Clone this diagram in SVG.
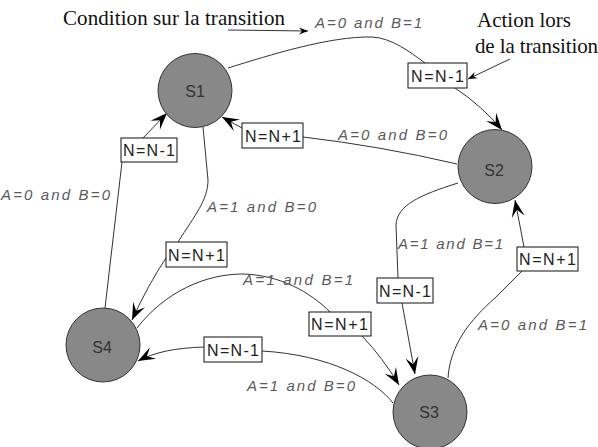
<svg xmlns="http://www.w3.org/2000/svg" width="598" height="447" viewBox="0 0 598 447">
<style>
.st{fill:#888;stroke:#333;stroke-width:1}
.sn{font-family:"Liberation Sans",Arial,sans-serif;font-size:16px;fill:#333;text-anchor:middle}
.bx{fill:#fff;stroke:#111;stroke-width:1}
.bt{font-family:"Liberation Sans",Arial,sans-serif;font-size:16px;fill:#222}
.lb{font-family:"Liberation Sans",Arial,sans-serif;font-size:15px;font-style:italic;fill:#5a5a5a}
.an{font-family:"Liberation Serif","Times New Roman",serif;font-size:21px;fill:#111}
.cn{fill:none;stroke:#333;stroke-width:1}
</style>
<defs>
<marker id="ah" markerUnits="userSpaceOnUse" markerWidth="22" markerHeight="16" viewBox="-18 -8 20 16" refX="0" refY="0" orient="auto">
<path d="M0,0 L-17,-6.5 L-10,0 L-17,6.5 Z" fill="#000"/>
</marker>
<marker id="sa" markerUnits="userSpaceOnUse" markerWidth="12" markerHeight="10" viewBox="-10 -5 11 10" refX="0" refY="0" orient="auto">
<path d="M0,0 L-9,-3.5 L-6,0 L-9,3.5 Z" fill="#000"/>
</marker>
</defs>

<g id="connectors">
<path class="cn" d="M228,68 C270,55 330,36 372,37 C392,38 410,52 425,63"/>
<path class="cn" d="M455,88 Q482,106 502,130" marker-end="url(#ah)"/>
<path class="cn" d="M457,164 Q380,146 303,137"/>
<path class="cn" d="M242,128 L222,117" marker-end="url(#ah)"/>
<path class="cn" d="M105,308 L122,162"/>
<path class="cn" d="M143,138 L167,113" marker-end="url(#ah)"/>
<path class="cn" d="M203,127 L208,180 C208,200 195,215 178,242"/>
<path class="cn" d="M166,258 Q148,285 132,320" marker-end="url(#ah)"/>
<path class="cn" d="M137,328 C165,292 205,274 243,274 C280,275 310,292 330,312"/>
<path class="cn" d="M362,336 Q383,358 399,385" marker-end="url(#ah)"/>
<path class="cn" d="M393,403 C375,380 330,355 262,351"/>
<path class="cn" d="M204,347 C175,348 155,352 138,361" marker-end="url(#ah)"/>
<path class="cn" d="M458,183 C420,195 397,205 396,225 L398,278"/>
<path class="cn" d="M402,303 L415,374" marker-end="url(#ah)"/>
<path class="cn" d="M448,378 C450,345 470,320 495,298 L522,271"/>
<path class="cn" d="M524,247 L515,200" marker-end="url(#ah)"/>
<path class="cn" d="M228,30 L308,31" stroke="#000" marker-end="url(#sa)"/>
<path class="cn" d="M510,59 L468,79" stroke="#000" marker-end="url(#sa)"/>
</g>

<g id="S1"><circle class="st" cx="195" cy="90.5" r="37"/><text class="sn" x="195" y="97">S1</text></g>
<g id="S2"><circle class="st" cx="495" cy="166.5" r="37"/><text class="sn" x="494" y="176">S2</text></g>
<g id="S3"><circle class="st" cx="430" cy="412" r="37"/><text class="sn" x="429" y="418">S3</text></g>
<g id="S4"><circle class="st" cx="103" cy="345" r="37"/><text class="sn" x="102" y="353">S4</text></g>

<g id="act1"><rect class="bx" x="408" y="63" width="59" height="25"/><text class="bt" x="411" y="82" textLength="53" lengthAdjust="spacing">N=N-1</text></g>
<g id="act2"><rect class="bx" x="242" y="123" width="61" height="25"/><text class="bt" x="245" y="142" textLength="56" lengthAdjust="spacing">N=N+1</text></g>
<g id="act3"><rect class="bx" x="121" y="138" width="56" height="24"/><text class="bt" x="123" y="156" textLength="52" lengthAdjust="spacing">N=N-1</text></g>
<g id="act4"><rect class="bx" x="166" y="242" width="61" height="25"/><text class="bt" x="168" y="261" textLength="57" lengthAdjust="spacing">N=N+1</text></g>
<g id="act5"><rect class="bx" x="309" y="312" width="62" height="24"/><text class="bt" x="311" y="330" textLength="57" lengthAdjust="spacing">N=N+1</text></g>
<g id="act6"><rect class="bx" x="204" y="337" width="58" height="25"/><text class="bt" x="207" y="356" textLength="52" lengthAdjust="spacing">N=N-1</text></g>
<g id="act7"><rect class="bx" x="377" y="278" width="56" height="25"/><text class="bt" x="379" y="297" textLength="52" lengthAdjust="spacing">N=N-1</text></g>
<g id="act8"><rect class="bx" x="517" y="247" width="61" height="24"/><text class="bt" x="519" y="265" textLength="57" lengthAdjust="spacing">N=N+1</text></g>

<g id="conds">
<text class="lb" x="315" y="28" textLength="107" lengthAdjust="spacing">A=0 and B=1</text>
<text class="lb" x="338" y="140" textLength="109" lengthAdjust="spacing">A=0 and B=0</text>
<text class="lb" x="1" y="200" textLength="109" lengthAdjust="spacing">A=0 and B=0</text>
<text class="lb" x="207" y="212" textLength="109" lengthAdjust="spacing">A=1 and B=0</text>
<text class="lb" x="243" y="285" textLength="110" lengthAdjust="spacing">A=1 and B=1</text>
<text class="lb" x="398" y="249" textLength="105" lengthAdjust="spacing">A=1 and B=1</text>
<text class="lb" x="478" y="330" textLength="109" lengthAdjust="spacing">A=0 and B=1</text>
<text class="lb" x="247" y="391" textLength="108" lengthAdjust="spacing">A=1 and B=0</text>
</g>

<g id="annotations">
<text class="an" x="63" y="25" textLength="222" lengthAdjust="spacing">Condition sur la transition</text>
<text class="an" x="477" y="27">Action lors</text>
<text class="an" x="475" y="53" textLength="123" lengthAdjust="spacing">de la transition</text>
</g>
</svg>
